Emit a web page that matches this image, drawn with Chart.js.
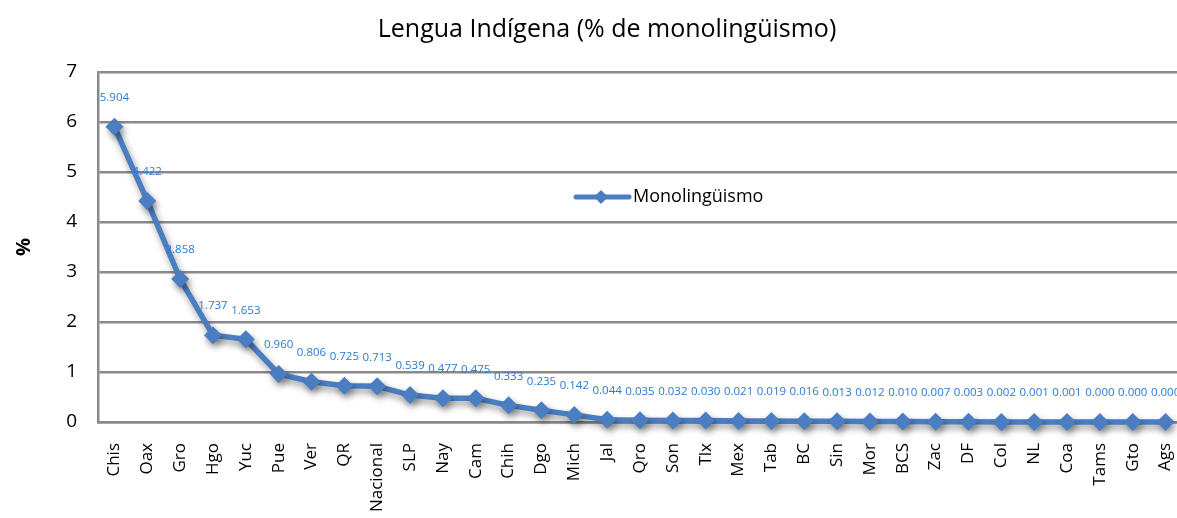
<!DOCTYPE html>
<html><head><meta charset="utf-8">
<script src="https://cdn.jsdelivr.net/npm/chart.js@4/dist/chart.umd.min.js"></script>
<style>
html,body{margin:0;padding:0;overflow:hidden;background:#fff;width:1177px;height:518px}
#wrap{width:1214px;height:518px}
canvas{display:block}
</style></head>
<body><div id="wrap"><canvas id="c" width="1214" height="518"></canvas></div>
<script>
const categories = ['Chis','Oax','Gro','Hgo','Yuc','Pue','Ver','QR','Nacional','SLP','Nay','Cam','Chih','Dgo','Mich','Jal','Qro','Son','Tlx','Mex','Tab','BC','Sin','Mor','BCS','Zac','DF','Col','NL','Coa','Tams','Gto','Ags'];
const monolinguismo = [5.904,4.422,2.858,1.737,1.653,0.960,0.806,0.725,0.713,0.539,0.477,0.475,0.333,0.235,0.142,0.044,0.035,0.032,0.030,0.021,0.019,0.016,0.013,0.012,0.010,0.007,0.003,0.002,0.001,0.001,0.000,0.000,0.000];
const yTickValues = [0,1,2,3,4,5,6,7];
const chartTitle = 'Lengua Indígena (% de monolingüismo)';
const seriesName = 'Monolingüismo';
const yAxisTitle = '%';

const LINE = '#4a7dc1';
const GRID = '#8a8a8a';
const FONT = "'Open Sans', sans-serif";

const shadowPlugin = {
  id: 'shadowPlugin',
  beforeDatasetsDraw(chart) {
    const c = chart.ctx; c.save();
    c.shadowColor = 'rgba(0,0,0,0.4)';
    c.shadowBlur = 7; c.shadowOffsetX = 2; c.shadowOffsetY = 4;
  },
  afterDatasetsDraw(chart) { chart.ctx.restore(); }
};

const labelPlugin = {
  id: 'labelPlugin',
  afterDatasetsDraw(chart) {
    const c = chart.ctx;
    const meta = chart.getDatasetMeta(0);
    const data = chart.data.datasets[0].data;
    c.save();
    c.font = "11.5px " + FONT;
    c.fillStyle = '#2a7ad0';
    c.textAlign = 'center';
    c.textBaseline = 'middle';
    meta.data.forEach((pt, i) => {
      c.fillText(Number(data[i]).toFixed(3), pt.x, pt.y - 29);
    });
    c.restore();
  }
};

const legendPlugin = {
  id: 'legendPlugin',
  afterDraw(chart) {
    const c = chart.ctx;
    const y = 197;
    c.save();
    c.strokeStyle = LINE; c.lineWidth = 5; c.lineCap = 'round';
    c.beginPath(); c.moveTo(576, y); c.lineTo(629, y); c.stroke();
    c.fillStyle = LINE;
    c.beginPath(); c.moveTo(601, y - 7); c.lineTo(608, y); c.lineTo(601, y + 7); c.lineTo(594, y); c.closePath(); c.fill();
    c.fillStyle = '#000';
    c.font = "18px " + FONT;
    c.textAlign = 'left'; c.textBaseline = 'middle';
    c.fillText(seriesName, 633, y);
    c.restore();
  }
};

new Chart(document.getElementById('c'), {
  type: 'line',
  data: {
    labels: categories,
    datasets: [{
      label: seriesName,
      data: monolinguismo,
      borderColor: LINE,
      backgroundColor: LINE,
      borderWidth: 5.5,
      tension: 0,
      pointStyle: 'rectRot',
      pointRadius: 9,
      pointBorderWidth: 0,
      pointBackgroundColor: LINE,
      clip: false
    }]
  },
  options: {
    responsive: false,
    animation: false,
    devicePixelRatio: 1,
    layout: { padding: { left: 0, right: 0, top: 0, bottom: 0 } },
    plugins: {
      legend: { display: false },
      tooltip: { enabled: false },
      title: {
        display: true, text: chartTitle, color: '#000',
        font: { family: FONT, size: 25, weight: 'normal', lineHeight: 1.2 },
        padding: { top: 15, bottom: 27 }
      }
    },
    scales: {
      x: {
        offset: true,
        grid: { display: false, drawTicks: false },
        border: { display: true, color: GRID, width: 2.5 },
        ticks: {
          autoSkip: false, maxRotation: 90, minRotation: 90, padding: 21,
          color: '#000', font: { family: FONT, size: 17 }
        },
        afterFit(scale) { scale.height = 96; }
      },
      y: {
        min: 0, max: 7,
        afterBuildTicks(scale) { scale.ticks = yTickValues.map(v => ({ value: v })); },
        grid: { color: GRID, lineWidth: 2.5, drawTicks: false },
        border: { display: true, color: GRID, width: 2.5 },
        ticks: { padding: 21, color: '#000', font: { family: FONT, size: 19 } },
        title: {
          display: true, text: yAxisTitle, color: '#000',
          font: { family: FONT, size: 20, weight: 'bold', lineHeight: 1.2 },
          padding: { top: 12, bottom: 0 }
        },
        afterFit(scale) { scale.width = 98; }
      },
      yRight: {
        position: 'right',
        display: true,
        grid: { display: false, drawTicks: false },
        border: { display: false },
        ticks: { display: false },
        afterFit(scale) { scale.width = 32; }
      }
    }
  },
  plugins: [shadowPlugin, labelPlugin, legendPlugin]
});
</script>
</body></html>
